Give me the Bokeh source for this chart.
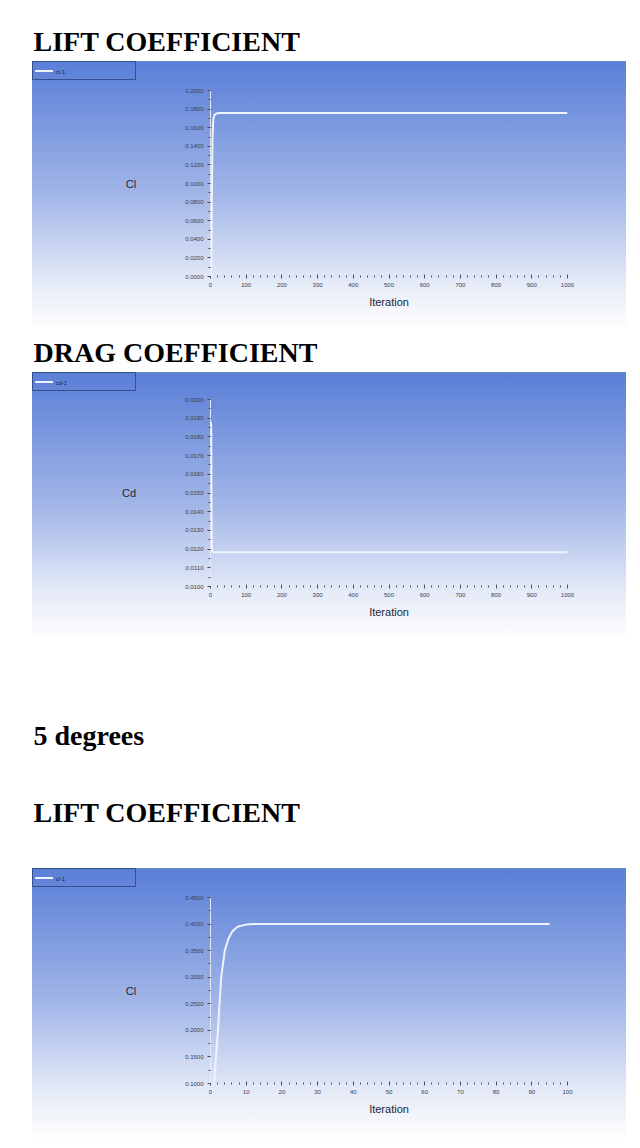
from bokeh.plotting import figure
from bokeh.layouts import column
from bokeh.models import ColumnDataSource, FixedTicker, NumeralTickFormatter, Title, Range1d
from bokeh.embed import file_html
from bokeh.resources import INLINE

# ---------------- data ----------------
heading_lift = "LIFT COEFFICIENT"
heading_drag = "DRAG COEFFICIENT"
heading_case = "5 degrees"
x_label = "Iteration"

# 0 degrees - lift coefficient
lift0_iter = [1, 2, 3, 4, 5, 6, 7, 8, 10, 12, 15, 20, 25, 40, 100, 1000]
lift0_cl = [0.0, 0.01, 0.04, 0.09, 0.13, 0.152, 0.163, 0.169, 0.1725, 0.174, 0.175,
            0.1755, 0.1757, 0.1757, 0.1757, 0.1757]
# 0 degrees - drag coefficient
drag0_iter = [1, 2, 3, 4, 5, 8, 20, 100, 1000]
drag0_cd = [0.0188, 0.0186, 0.0135, 0.0120, 0.01185, 0.01183, 0.01183, 0.01183, 0.01183]
# 5 degrees - lift coefficient
lift5_iter = [1, 2, 3, 4, 5, 6, 7, 8, 10, 12, 15, 20, 40, 95]
lift5_cl = [0.10, 0.19, 0.30, 0.35, 0.372, 0.385, 0.392, 0.396, 0.399, 0.400, 0.4003,
            0.4003, 0.4002, 0.4002]

# axis ticks
x_ticks_1000 = [0, 100, 200, 300, 400, 500, 600, 700, 800, 900, 1000]
x_ticks_100 = [0, 10, 20, 30, 40, 50, 60, 70, 80, 90, 100]
lift0_yticks = [0.0, 0.02, 0.04, 0.06, 0.08, 0.10, 0.12, 0.14, 0.16, 0.18, 0.20]
drag0_yticks = [0.010, 0.011, 0.012, 0.013, 0.014, 0.015, 0.016, 0.017, 0.018, 0.019, 0.020]
lift5_yticks = [0.10, 0.15, 0.20, 0.25, 0.30, 0.35, 0.40, 0.45]

# monitor legend labels
legend_lift = "cl-1"
legend_drag = "cd-1"

LINE_COLOR = "#eef2fb"
LEGEND_BORDER = "#34508f"


def minor_between(ticks, n):
    out = []
    for a, b in zip(ticks[:-1], ticks[1:]):
        for k in range(n):
            out.append(a + (b - a) * k / n)
    out.append(ticks[-1])
    return out


def heading(text, standoff):
    return Title(text=text, align="left", offset=-177, standoff=standoff,
                 text_font="Liberation Serif", text_font_size="28px",
                 text_font_style="bold", text_color="#000000")


def legend_text(text, standoff):
    return Title(text=text, align="left", offset=-155, standoff=standoff,
                 text_font="Liberation Sans", text_font_size="6px",
                 text_font_style="normal", text_color="#17245e")


def spacer(standoff):
    return Title(text=" ", standoff=standoff, text_font_size="1px")


def panel_background(panel_top, fig_h):
    solid = lambda c: f"linear-gradient({c},{c})"
    b = LEGEND_BORDER
    layers = [
        # monitor legend box in the panel's top-left corner
        f"{solid(b)} 0px {panel_top}px / 104px 1px no-repeat",
        f"{solid(b)} 0px {panel_top + 18}px / 104px 1px no-repeat",
        f"{solid(b)} 0px {panel_top}px / 1px 19px no-repeat",
        f"{solid(b)} 103px {panel_top}px / 1px 19px no-repeat",
        f"{solid(LINE_COLOR)} 3px {panel_top + 9}px / 18px 2px no-repeat",
        # blue-to-white panel gradient
        (f"linear-gradient(to bottom, #ffffff 0px, #ffffff {panel_top}px, "
         f"#7b8fc0 {panel_top}px, #5a7fd7 {panel_top + 1}px, "
         f"#a2b6e8 {panel_top + (fig_h - panel_top) * 0.5:.0f}px, "
         f"#e4eaf7 {panel_top + (fig_h - panel_top) * 0.82:.0f}px, #ffffff 100%) "
         f"0px 0px / 100% 100% no-repeat"),
    ]
    return ", ".join(layers)


def make_chart(xs, ys, xticks, xminor_n, yticks, yminor_n, ylabel, leg_label,
               fig_h, panel_top, frame_top, frame_h, titles, standoffs,
               spacer_standoff, legend_standoff, top_margin=0):
    p = figure(width=594, height=fig_h,
               x_range=Range1d(xticks[0], xticks[-1]),
               y_range=Range1d(yticks[0], yticks[-1]),
               output_backend="svg", toolbar_location=None,
               min_border_left=178, min_border_right=59,
               min_border_top=frame_top,
               min_border_bottom=fig_h - frame_top - frame_h,
               margin=(top_margin, 0, 0, 32))
    p.title = None
    p.background_fill_color = None
    p.border_fill_color = None
    p.outline_line_color = None
    p.grid.visible = False
    p.styles = {"background": panel_background(panel_top, fig_h)}

    src = ColumnDataSource(dict(it=xs, v=ys))
    p.line(x="it", y="v", source=src, line_color=LINE_COLOR, line_width=2)

    p.xaxis.ticker = FixedTicker(ticks=xticks, minor_ticks=minor_between(xticks, xminor_n))
    p.yaxis.ticker = FixedTicker(ticks=yticks, minor_ticks=minor_between(yticks, yminor_n))
    p.yaxis.formatter = NumeralTickFormatter(format="0.0000")
    p.xaxis.axis_label = x_label
    p.yaxis.axis_label = ylabel
    p.yaxis.axis_label_orientation = "horizontal"
    for ax in (p.xaxis[0], p.yaxis[0]):
        ax.axis_line_color = "#e3e8f4"
        ax.major_tick_line_color = "#4a4f63"
        ax.minor_tick_line_color = "#4a4f63"
        ax.major_label_text_font = "Liberation Sans"
        ax.major_label_text_font_size = "6px"
        ax.major_label_text_color = "#3a3d4f"
        ax.axis_label_text_font = "Liberation Sans"
        ax.axis_label_text_font_size = "11px"
        ax.axis_label_text_font_style = "normal"
        ax.axis_label_text_color = "#22252f"
        ax.major_label_standoff = 4
    p.xaxis.major_tick_in = 2
    p.xaxis.major_tick_out = 2
    p.xaxis.minor_tick_in = 1
    p.xaxis.minor_tick_out = 1
    p.xaxis.axis_label_standoff = 6
    p.yaxis.major_tick_in = 0
    p.yaxis.major_tick_out = 3
    p.yaxis.minor_tick_in = 0
    p.yaxis.minor_tick_out = 2
    p.yaxis.axis_label_standoff = 46

    # items above the frame, first added sits closest to the frame
    p.add_layout(spacer(spacer_standoff), "above")
    p.add_layout(legend_text(leg_label, legend_standoff), "above")
    for t, so in zip(titles, standoffs):
        p.add_layout(heading(t, so), "above")
    return p


p1 = make_chart(lift0_iter, lift0_cl, x_ticks_1000, 5, lift0_yticks, 2, "Cl", legend_lift,
                fig_h=322, panel_top=53, frame_top=82, frame_h=186,
                titles=[heading_lift], standoffs=[19], spacer_standoff=13,
                legend_standoff=0, top_margin=8)
p2 = make_chart(drag0_iter, drag0_cd, x_ticks_1000, 5, drag0_yticks, 2, "Cd", legend_drag,
                fig_h=310, panel_top=42, frame_top=69, frame_h=187,
                titles=[heading_drag], standoffs=[5], spacer_standoff=4,
                legend_standoff=14)
p3 = make_chart(lift5_iter, lift5_cl, x_ticks_100, 5, lift5_yticks, 2, "Cl", legend_lift,
                fig_h=500, panel_top=228, frame_top=257, frame_h=186,
                titles=[heading_lift, heading_case], standoffs=[65, 23],
                spacer_standoff=0, legend_standoff=26)

layout = column(p1, p2, p3)
open("out.html", "w").write(file_html(layout, INLINE))
